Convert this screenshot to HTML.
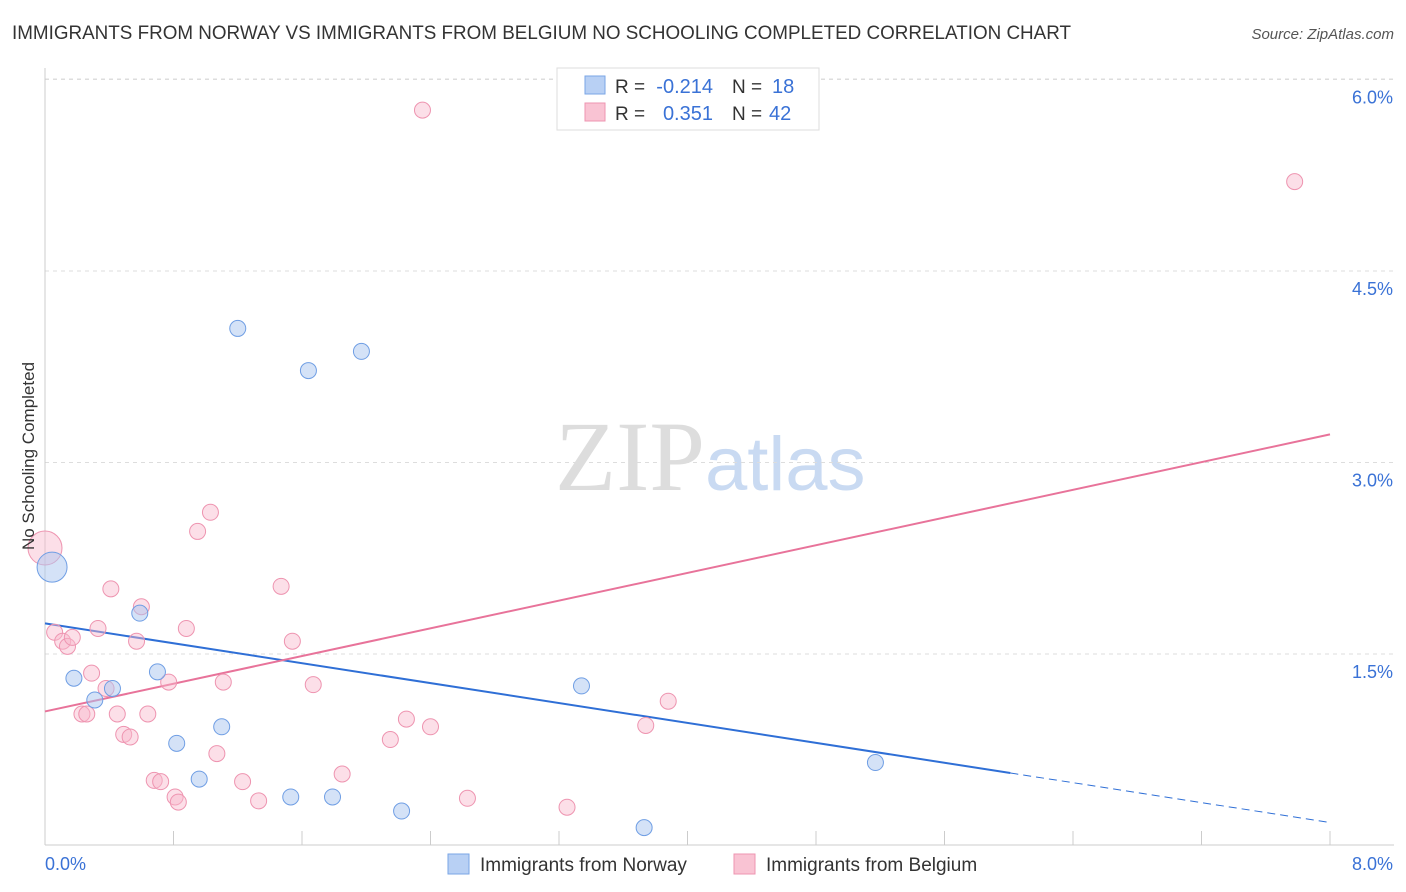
<!DOCTYPE html>
<html><head><meta charset="utf-8"><style>
body{margin:0;background:#fff;font-family:"Liberation Sans",sans-serif;}
svg{display:block}
</style></head><body>
<svg id="chart" width="1406" height="892" xmlns="http://www.w3.org/2000/svg">
<text x="12" y="39" font-size="19" fill="#333" textLength="1059" lengthAdjust="spacingAndGlyphs">IMMIGRANTS FROM NORWAY VS IMMIGRANTS FROM BELGIUM NO SCHOOLING COMPLETED CORRELATION CHART</text>
<text x="1394" y="39" font-size="15" fill="#555" text-anchor="end" font-style="italic">Source: ZipAtlas.com</text>
<text x="555" y="490" font-size="100" fill="#ddd" font-family="Liberation Serif,serif">ZIP<tspan fill="#c9daf2" font-family="Liberation Sans,sans-serif" font-size="76">atlas</tspan></text>
<g id="grid"></g><g id="axes"></g><g id="trends"></g><g id="points"></g>
<text transform="translate(34,456) rotate(-90)" font-size="17" fill="#333" text-anchor="middle">No Schooling Completed</text>
<g>
<rect x="557" y="68" width="262" height="62" fill="#fff" stroke="#ddd"/>
<rect x="585" y="76" width="20" height="18" fill="#b8d0f4" stroke="#7aa6e6"/>
<rect x="585" y="103" width="20" height="18" fill="#f9c3d3" stroke="#ee94b0"/>
<text x="615" y="93" font-size="19" fill="#333">R =</text>
<text x="713" y="93" font-size="20" fill="#3a72d6" text-anchor="end">-0.214</text>
<text x="732" y="93" font-size="19" fill="#333">N =</text>
<text x="772" y="93" font-size="20" fill="#3a72d6">18</text>
<text x="615" y="120" font-size="19" fill="#333">R =</text>
<text x="713" y="120" font-size="20" fill="#3a72d6" text-anchor="end">0.351</text>
<text x="732" y="120" font-size="19" fill="#333">N =</text>
<text x="769" y="120" font-size="20" fill="#3a72d6">42</text>
</g>
<g>
<rect x="448" y="854" width="21" height="20" fill="#b8d0f4" stroke="#7aa6e6"/>
<text x="480" y="871" font-size="19" fill="#333">Immigrants from Norway</text>
<rect x="734" y="854" width="21" height="20" fill="#f9c3d3" stroke="#ee94b0"/>
<text x="766" y="871" font-size="19" fill="#333">Immigrants from Belgium</text>
</g>
</svg>
<script>
const yTicks=[1.5,3.0,4.5,6.0];
const yTickLabels=["1.5%","3.0%","4.5%","6.0%"];
const xEndLabels=["0.0%","8.0%"];
const norwayX=[0.044,0.18,0.31,0.42,0.59,0.70,0.82,0.96,1.10,1.20,1.53,1.64,1.79,1.97,2.22,3.34,3.73,5.17];
const norwayY=[2.18,1.31,1.14,1.23,1.82,1.36,0.80,0.52,0.93,4.05,0.38,3.72,0.38,3.87,0.27,1.25,0.14,0.65];
const belgiumX=[0,0.06,0.11,0.14,0.17,0.23,0.26,0.29,0.33,0.38,0.41,0.45,0.49,0.53,0.57,0.60,0.64,0.68,0.72,0.77,0.81,0.83,0.88,0.95,1.03,1.07,1.11,1.23,1.33,1.47,1.54,1.67,1.85,2.15,2.25,2.35,2.40,2.63,3.25,3.74,3.88,7.78];
const belgiumY=[2.33,1.67,1.60,1.56,1.63,1.03,1.03,1.35,1.70,1.23,2.01,1.03,0.87,0.85,1.60,1.87,1.03,0.51,0.50,1.28,0.38,0.34,1.70,2.46,2.61,0.72,1.28,0.50,0.35,2.03,1.60,1.26,0.56,0.83,0.99,5.76,0.93,0.37,0.30,0.94,1.13,5.20];
const norwayTrend=[1.74,0.18];const norwaySolidEnd=6.01;
const belgiumTrend=[1.05,3.22];
const NS="http://www.w3.org/2000/svg";
const X=v=>45+v/8*1285, Y=v=>845.5-v*127.67;
function mk(tag,attrs,parent){const e=document.createElementNS(NS,tag);for(const k in attrs)e.setAttribute(k,attrs[k]);document.getElementById(parent).appendChild(e);return e;}
yTicks.forEach((t,i)=>{
 const l=mk('line',{x1:45,x2:1394,y1:Y(t),y2:Y(t),stroke:'#ddd','stroke-dasharray':'4,4'},'grid');
 
 
 const tx=mk('text',{x:1393,y:Y(t)+24,'font-size':18,fill:'#3a72d6','text-anchor':'end'},'grid');
 tx.textContent=yTickLabels[i];
 
 
});
const tl=mk('line',{x1:45,x2:1394,y1:79,y2:79,stroke:'#ddd','stroke-dasharray':'4,4'},'grid');


const ya=mk('line',{x1:45,x2:45,y1:68,y2:845,stroke:'#ccc'},'axes');


const xa=mk('line',{x1:45,x2:1394,y1:845,y2:845,stroke:'#ccc'},'axes');


for(let i=1;i<=10;i++){const k=mk('line',{x1:X(i*0.8),x2:X(i*0.8),y1:831,y2:845,stroke:'#ccc'},'axes');
 
 }
[[0,'start',45],[8,'end',1393]].forEach((a,i)=>{const t=mk('text',{x:a[2],y:870,'font-size':18,fill:'#3a72d6','text-anchor':a[1]},'axes');t.textContent=xEndLabels[i];
 
 });
const yAt=(tr,x)=>tr[0]+(tr[1]-tr[0])*x/8;
let l1=mk('line',{x1:X(0),y1:Y(norwayTrend[0]),x2:X(norwaySolidEnd),y2:Y(yAt(norwayTrend,norwaySolidEnd)),stroke:'#2f6fd6','stroke-width':2},'trends');


let l2=mk('line',{x1:X(norwaySolidEnd),y1:Y(yAt(norwayTrend,norwaySolidEnd)),x2:X(8),y2:Y(norwayTrend[1]),stroke:'#2f6fd6','stroke-width':1,'stroke-dasharray':'8,5'},'trends');


let l3=mk('line',{x1:X(0),y1:Y(belgiumTrend[0]),x2:X(8),y2:Y(belgiumTrend[1]),stroke:'#e8739a','stroke-width':2},'trends');


belgiumX.forEach((x,i)=>{const c=mk('circle',{cx:X(x),cy:Y(belgiumY[i]),r:i==0?17:8,fill:'rgba(249,185,205,0.45)',stroke:'#ee94b0','stroke-width':1},'points');
 
 });
norwayX.forEach((x,i)=>{const c=mk('circle',{cx:X(x),cy:Y(norwayY[i]),r:i==0?15:8,fill:'rgba(170,198,240,0.5)',stroke:'#6f9ee4','stroke-width':1},'points');
 
 });
</script>
</body></html>
